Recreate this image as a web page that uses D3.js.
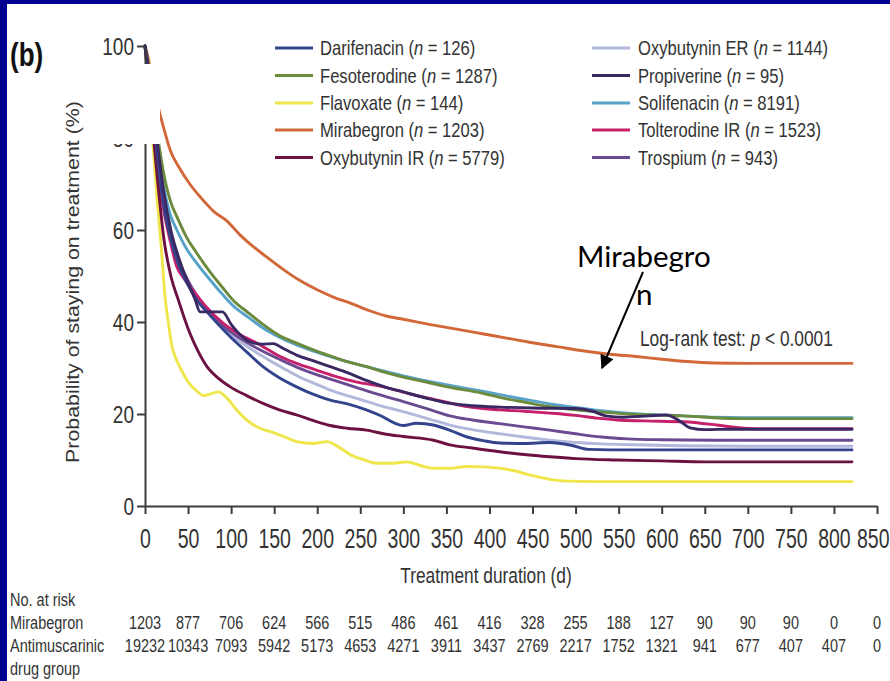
<!DOCTYPE html>
<html>
<head>
<meta charset="utf-8">
<script src="https://cdn.jsdelivr.net/npm/d3@7"></script>
<style>
  html, body { margin: 0; padding: 0; background: #ffffff; }
  svg { display: block; }
</style>
</head>
<body>
<svg id="chart" width="890" height="681"></svg>
<script>
// ---- axis ticks ----
const xTicks = d3.range(0, 851, 50);
const yTicks = [0, 20, 40, 60, 80, 100];

// ---- legend entries ----
const drugNames = ["Darifenacin", "Fesoterodine", "Flavoxate", "Mirabegron", "Oxybutynin IR",
                   "Oxybutynin ER", "Propiverine", "Solifenacin", "Tolterodine IR", "Trospium"];
const drugCounts = [126, 1287, 144, 1203, 5779, 1144, 95, 8191, 1523, 943];

// ---- number at risk ----
const riskRowLabels = ["Mirabegron", "Antimuscarinic"];
const riskMirabegron = [1203, 877, 706, 624, 566, 515, 486, 461, 416, 328, 255, 188, 127, 90, 90, 90, 0, 0];
const riskAntimuscarinic = [19232, 10343, 7093, 5942, 5173, 4653, 4271, 3911, 3437, 2769, 2217, 1752, 1321, 941, 677, 407, 407, 0];

// ---- persistence curves: [day, % still on treatment] ----
const darifenacin = [[0,100],[3,96],[8,88],[15,75],[22,65],[30,58],[40,52],[50,48],[60,44.8],[72,42.2],[85,39.5],[99,36.8],[118,33.5],[137,30.3],[155,28],[176,25.9],[195,24.3],[215,23],[235,22.2],[257,20.9],[275,19.5],[290,18],[300,17.5],[315,18],[335,17.6],[355,16.4],[374,15],[393,14.2],[412,13.7],[440,13.6],[470,13.8],[495,13.2],[515,12.3],[540,12.2],[600,12.2],[700,12.2],[821,12.2]];
const fesoterodine = [[0,100],[3,97],[8,90],[15,80],[22,72],[30,66],[37,62.9],[48,58.5],[60,55],[75,51],[90,47.5],[102,44.8],[120,42],[137,39.5],[155,37.2],[176,35.4],[200,33.6],[220,32.3],[240,31.1],[257,30.3],[280,29],[300,28],[330,26.8],[354,25.8],[390,24.6],[412,23.6],[440,22.6],[470,21.6],[500,20.9],[530,20.4],[560,20],[600,19.7],[625,19.6],[660,19.2],[695,19],[760,19],[821,19]];
const flavoxate = [[0,100],[2,96],[5,89],[9.5,78],[14,67],[19.4,55],[23,46],[27,40],[31,35],[36,32],[41,30],[50,27],[60,25],[68,24],[78,24.5],[85,24.8],[95,23.5],[105,21.2],[118,18.7],[132,17],[145,16.2],[160,15.2],[176,14],[195,13.6],[211,14],[225,12.8],[240,11],[255,10],[270,9.3],[288,9.3],[304,9.6],[320,8.8],[335,8.2],[354,8.2],[374,8.6],[393,8.5],[412,8.2],[430,7.6],[450,6.6],[470,5.8],[490,5.4],[520,5.3],[600,5.3],[700,5.3],[821,5.3]];
const mirabegron = [[0,100],[3,98],[8,93],[15,87],[22,82],[30,77],[40,73.5],[52,70],[65,67],[80,64],[95,62],[110,59],[125,56.5],[140,54.3],[160,51.5],[180,49],[200,47],[220,45.3],[240,44],[260,42.5],[280,41.3],[300,40.6],[330,39.5],[360,38.5],[390,37.5],[420,36.5],[450,35.5],[480,34.6],[510,33.7],[540,33],[570,32.5],[600,31.9],[630,31.4],[660,31.1],[700,31],[760,31],[821,31]];
const oxybutyninIR = [[0,100],[3,94],[8,84],[15,70],[22,58],[30,50],[38.7,44.8],[52,37.6],[62,33.5],[72,30.3],[85,27.8],[99,25.9],[118,24],[137,22.3],[156,20.9],[176,19.8],[195,18.6],[215,17.5],[235,16.9],[257,16.5],[280,15.6],[300,15.1],[335,14.3],[354,13.3],[380,12.6],[412,11.8],[440,11.2],[470,10.7],[500,10.3],[548,10],[600,9.8],[650,9.6],[700,9.6],[821,9.6]];
const oxybutyninER = [[0,100],[3,95],[8,87],[15,75],[22,65],[30,58],[40,52.5],[50,48.5],[60,45.5],[79,41.2],[100,37.2],[120,34.5],[137,32.5],[160,30],[180,28],[200,26.4],[215,25.2],[240,23.7],[270,22],[300,20.5],[330,18.9],[354,17.6],[380,16.6],[412,15.7],[440,15],[470,14.3],[500,13.8],[530,13.5],[570,13.3],[620,13.1],[700,13],[821,13]];
const propiverine = [[0,100],[3,96],[8,89],[15,78],[22,68],[30,60],[40,53.5],[50,48.5],[58,45],[64,42.2],[90,42.2],[100,39.5],[112,37],[122,35.7],[135,35.2],[149,35.3],[160,34.3],[176,32.8],[195,31.6],[215,30.3],[235,29],[257,27.3],[280,25.8],[300,24.8],[330,23.3],[354,22.3],[380,21.8],[412,21.5],[450,21.3],[500,21.2],[520,20.6],[535,19.6],[555,19.3],[585,19.6],[605,19.8],[620,18.6],[633,17],[650,16.6],[680,16.7],[760,16.7],[821,16.7]];
const solifenacin = [[0,100],[3,96],[8,88],[15,77],[22,69],[30,63],[37,60],[48,56],[60,52.8],[75,49.3],[90,46],[102,43.6],[120,41],[137,38.7],[155,36.8],[176,35],[200,33.4],[220,32.2],[240,31.1],[257,30.3],[280,29.2],[300,28.3],[330,27.1],[354,26.2],[390,25],[412,24.2],[440,23.2],[470,22.2],[500,21.4],[530,20.7],[560,20.2],[600,19.8],[625,19.6],[660,19.3],[695,19.2],[760,19.2],[821,19.2]];
const tolterodineIR = [[0,100],[3,95],[8,86],[15,73],[22,64],[29,57.8],[37,52],[45,49.5],[55,47],[70,43.5],[91,39.7],[110,37.3],[130,35.4],[157,32.5],[176,31],[195,29.8],[219,28.3],[245,27],[277,25.9],[305,24.5],[335,23.2],[354,22.4],[374,21.6],[412,20.9],[440,20.6],[470,20.2],[500,19.7],[525,19.1],[548,18.7],[580,18.5],[625,18.3],[664,17.6],[690,17],[710,16.8],[760,16.8],[821,16.8]];
const trospium = [[0,100],[3,96],[8,88],[15,76],[22,66],[30,59],[40,53],[50,49],[60,45.8],[75,42.3],[90,39.3],[110,36.5],[130,34.3],[155,32],[176,30.2],[200,28.5],[220,27.3],[245,25.8],[270,24.3],[300,22.7],[330,21],[354,19.6],[380,18.7],[412,17.9],[440,17.2],[470,16.5],[500,15.7],[530,15],[560,14.6],[600,14.4],[660,14.3],[821,14.3]];

const curveData = [darifenacin, fesoterodine, flavoxate, mirabegron, oxybutyninIR,
                   oxybutyninER, propiverine, solifenacin, tolterodineIR, trospium];

// ---- styling ----
const colorOf = {
  "Darifenacin": "#33448d",
  "Fesoterodine": "#6b8a3c",
  "Flavoxate": "#eee64a",
  "Mirabegron": "#d2683a",
  "Oxybutynin IR": "#6c1142",
  "Oxybutynin ER": "#b2b7dc",
  "Propiverine": "#3a2862",
  "Solifenacin": "#56a2c8",
  "Tolterodine IR": "#c7206b",
  "Trospium": "#6a4b92"
};
// draw order (back to front)
const drawOrder = ["Mirabegron", "Oxybutynin ER", "Trospium", "Solifenacin", "Fesoterodine", "Tolterodine IR",
                   "Flavoxate", "Oxybutynin IR", "Darifenacin", "Propiverine"];

const FONT = "'Liberation Sans', Arial, Helvetica, sans-serif";
const TXT = "#333333";
const VSTRETCH = 1.25;   // the figure's lettering is drawn tall and narrow

const svg = d3.select("#chart");

const x = d3.scaleLinear().domain([0, 850]).range([145, 877]);
const y = d3.scaleLinear().domain([0, 100]).range([506, 46]);

// helper: horizontal text with tall lettering
function label(parent, px, py, size, anchor, stretch) {
  return parent.append("text")
    .attr("transform", `translate(${px},${py}) scale(1,${stretch || VSTRETCH})`)
    .attr("font-family", FONT)
    .attr("font-size", size)
    .attr("text-anchor", anchor || "start")
    .attr("fill", TXT);
}

// ---- curves ----
const line = d3.line()
  .x(d => x(d[0]))
  .y(d => y(d[1]))
  .curve(d3.curveMonotoneX);

const curvesG = svg.append("g").attr("fill", "none").attr("stroke-width", 2.9)
  .attr("stroke-linejoin", "round").attr("stroke-linecap", "round");
drawOrder.forEach(name => {
  const i = drugNames.indexOf(name);
  curvesG.append("path")
    .datum(curveData[i])
    .attr("d", line)
    .attr("stroke", colorOf[name]);
});

// ---- axes ----
const xAxis = svg.append("g")
  .attr("transform", `translate(0,${y(0)})`)
  .call(d3.axisBottom(x).tickValues(xTicks).tickSize(8).tickSizeOuter(0).tickPadding(0));
const yAxis = svg.append("g")
  .attr("transform", `translate(${x(0)},0)`)
  .call(d3.axisLeft(y).tickValues(yTicks).tickSize(8).tickSizeOuter(0).tickPadding(0));

[xAxis, yAxis].forEach(g => {
  g.select(".domain").attr("stroke", "#3c3c3c").attr("stroke-width", 2);
  g.selectAll(".tick line").attr("stroke", "#3c3c3c").attr("stroke-width", 2);
  g.selectAll(".tick text").attr("font-family", FONT).attr("fill", TXT)
    .attr("x", 0).attr("y", 0).attr("dy", null);
});
xAxis.selectAll(".tick text").attr("font-size", 19.5)
  .attr("transform", `translate(0,42) scale(1,1.4)`);
// the last label sits against the right edge
xAxis.selectAll(".tick text").filter(d => d === 850)
  .attr("text-anchor", "end")
  .attr("transform", `translate(12,42) scale(1,1.4)`);
yAxis.selectAll(".tick text").attr("font-size", 19).attr("text-anchor", "end")
  .attr("transform", `translate(-11,8) scale(1,${VSTRETCH})`);

// white panel over the upper part of the axis
svg.append("rect").attr("x", 80).attr("y", 64).attr("width", 80).attr("height", 80).attr("fill", "#ffffff");

// ---- axis titles ----
label(svg, 486, 583, 17.3, "middle").text("Treatment duration (d)");
svg.append("text")
  .attr("transform", `translate(79,282) rotate(-90) scale(1.22,1)`)
  .attr("font-family", FONT).attr("font-size", 17.5).attr("text-anchor", "middle").attr("fill", TXT)
  .text("Probability of staying on treatment (%)");

// panel letter
label(svg, 10, 66, 26, "start").attr("font-weight", "bold").attr("fill", "#111").text("(b)");

// ---- legend ----
const legendCols = [{lx: 275, tx: 320}, {lx: 592, tx: 638}];
const legendRows = [48, 75.5, 103, 130, 157.5];
drugNames.forEach((name, i) => {
  const col = legendCols[Math.floor(i / 5)];
  const ry = legendRows[i % 5];
  svg.append("line")
    .attr("x1", col.lx).attr("x2", col.lx + 38)
    .attr("y1", ry).attr("y2", ry)
    .attr("stroke", colorOf[name]).attr("stroke-width", 3.2);
  const t = label(svg, col.tx, ry + 7, 16.6, "start");
  t.append("tspan").text(name + " (");
  t.append("tspan").attr("font-style", "italic").text("n");
  t.append("tspan").text(" = " + drugCounts[i] + ")");
});

// ---- log-rank note ----
const lr = label(svg, 640, 346, 17.3, "start");
lr.append("tspan").text("Log-rank test: ");
lr.append("tspan").attr("font-style", "italic").text("p");
lr.append("tspan").text(" < 0.0001");

// ---- annotation with arrow ----
const defs = svg.append("defs");
defs.append("marker").attr("id", "arrowHead")
  .attr("viewBox", "0 0 10 10").attr("refX", 9).attr("refY", 5)
  .attr("markerWidth", 8).attr("markerHeight", 7).attr("orient", "auto")
  .attr("markerUnits", "strokeWidth")
  .append("path").attr("d", "M0,0L10,5L0,10z").attr("fill", "#000");
svg.append("line")
  .attr("x1", 643).attr("y1", 272).attr("x2", 602).attr("y2", 368)
  .attr("stroke", "#000").attr("stroke-width", 2)
  .attr("marker-end", "url(#arrowHead)");
const ANN_FONT = "Lato, 'Open Sans', sans-serif";
svg.append("text").attr("x", 577).attr("y", 267)
  .attr("font-family", ANN_FONT).attr("font-size", 29.5).attr("fill", "#000").text("Mirabegro");
svg.append("text").attr("x", 636).attr("y", 305)
  .attr("font-family", ANN_FONT).attr("font-size", 29.5).attr("fill", "#000").text("n");

// ---- number-at-risk table ----
label(svg, 10, 606, 14.5, "start").text("No. at risk");
label(svg, 10, 629, 14.5, "start").text(riskRowLabels[0]);
label(svg, 10, 652, 14.5, "start").text(riskRowLabels[1]);
label(svg, 10, 675, 14.5, "start").text("drug group");
[riskMirabegron, riskAntimuscarinic].forEach((row, r) => {
  row.forEach((v, i) => {
    label(svg, x(xTicks[i]), 629 + r * 23, 14.5, "middle").text(v);
  });
});

// ---- slide frame ----
svg.append("rect").attr("x", 0).attr("y", 0).attr("width", 890).attr("height", 4).attr("fill", "#00008e");
svg.append("rect").attr("x", 0).attr("y", 0).attr("width", 7).attr("height", 681).attr("fill", "#00008e");
</script>
</body>
</html>
